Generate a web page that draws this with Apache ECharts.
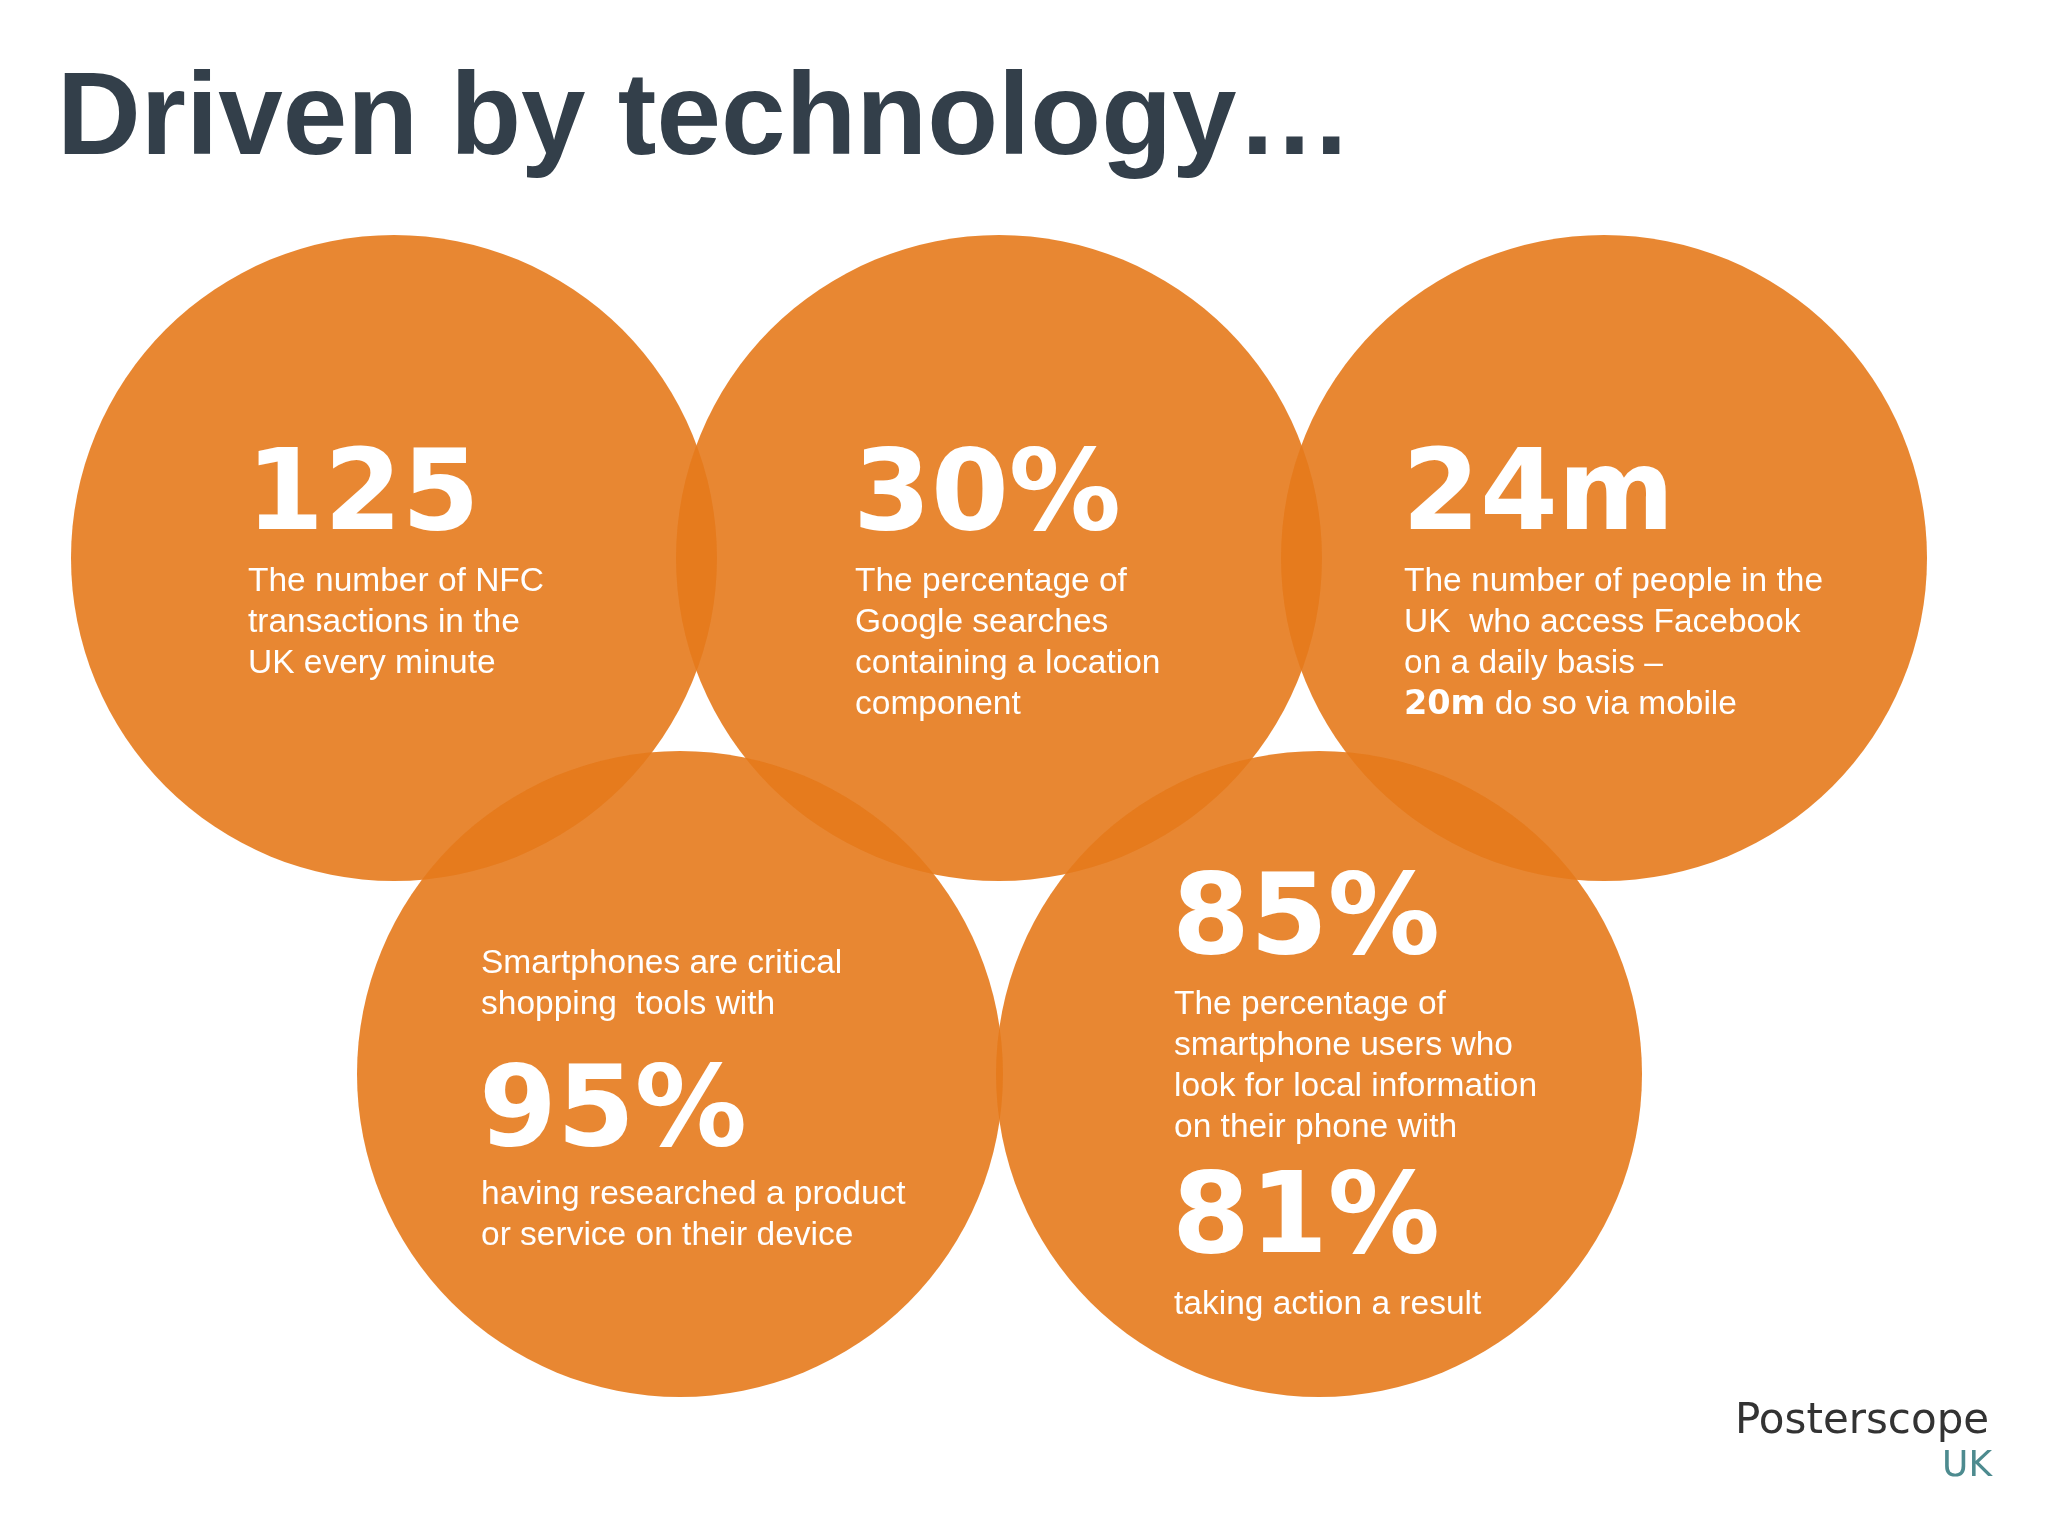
<!DOCTYPE html>
<html><head><meta charset="utf-8">
<script src="https://cdn.jsdelivr.net/npm/echarts@6/dist/echarts.min.js"></script>
<style>html,body{margin:0;padding:0;background:#fff}#c{width:2048px;height:1536px}</style>
</head><body><div id="c"></div>
<script>
const circleX = [394, 999, 1604, 680, 1319];
const circleY = [558, 558, 558, 1074, 1074];
const bigNumbers = ['125', '30%', '24m', '95%', '85%', '81%'];
const descriptions = [
  ['The number of NFC', 'transactions in the', 'UK every minute'],
  ['The percentage of', 'Google searches', 'containing a location', 'component'],
  ['The number of people in the', 'UK  who access Facebook', 'on a daily basis –', '{b|20m} do so via mobile'],
  ['Smartphones are critical', 'shopping  tools with'],
  ['having researched a product', 'or service on their device'],
  ['The percentage of', 'smartphone users who', 'look for local information', 'on their phone with'],
  ['taking action a result']
];
const F = 'Liberation Sans, Arial, sans-serif';
const chart = echarts.init(document.getElementById('c'));
const g = [];
function big(t, x, y){ g.push({type:'text', z:10, style:{text:t, x, y:y+12, fill:'#fff', font:'900 112px "DejaVu Sans", '+F, textVerticalAlign:'middle'}}); }
function body(lines, x, y){ lines.forEach((l,i)=>g.push({type:'text', z:10, style:{text:l, x, y:y+3+i*41, fill:'#fff', font:'33.5px '+F, textVerticalAlign:'middle', rich:{b:{font:'bold 33.5px "DejaVu Sans", '+F, fill:'#fff'}}}})); }
big(bigNumbers[0], 246, 488); body(descriptions[0], 248, 579);
big(bigNumbers[1], 853, 488); body(descriptions[1], 855, 579);
big(bigNumbers[2], 1402, 488); body(descriptions[2], 1404, 579);
body(descriptions[3], 481, 961); big(bigNumbers[3], 479, 1104); body(descriptions[4], 481, 1192);
big(bigNumbers[4], 1172, 912); body(descriptions[5], 1174, 1002); big(bigNumbers[5], 1172, 1211); body(descriptions[6], 1174, 1302);
g.push({type:'text', style:{text:'Driven by technology…', x:57, y:122, fill:'#333f4a', font:'bold 116px '+F, textVerticalAlign:'middle'}});
g.push({type:'text', style:{text:'Posterscope', x:1735, y:1422, fill:'#333', font:'500 42px "DejaVu Sans", '+F, textVerticalAlign:'middle'}});
g.push({type:'text', style:{text:'UK', x:1992, y:1467, fill:'#4d8b8f', font:'36px "DejaVu Sans", '+F, textVerticalAlign:'middle', textAlign:'right'}});
chart.setOption({
  animation:false,
  grid:{left:0,right:0,top:0,bottom:0},
  xAxis:{type:'value',min:0,max:2048,show:false},
  yAxis:{type:'value',min:0,max:1536,inverse:true,show:false},
  series:[{type:'scatter', symbolSize:646, data:circleX.map((x,i)=>[x,circleY[i]]),
    itemStyle:{color:'rgba(230,122,28,0.9)', opacity:1}}],
  graphic:g
});
</script></body></html>
